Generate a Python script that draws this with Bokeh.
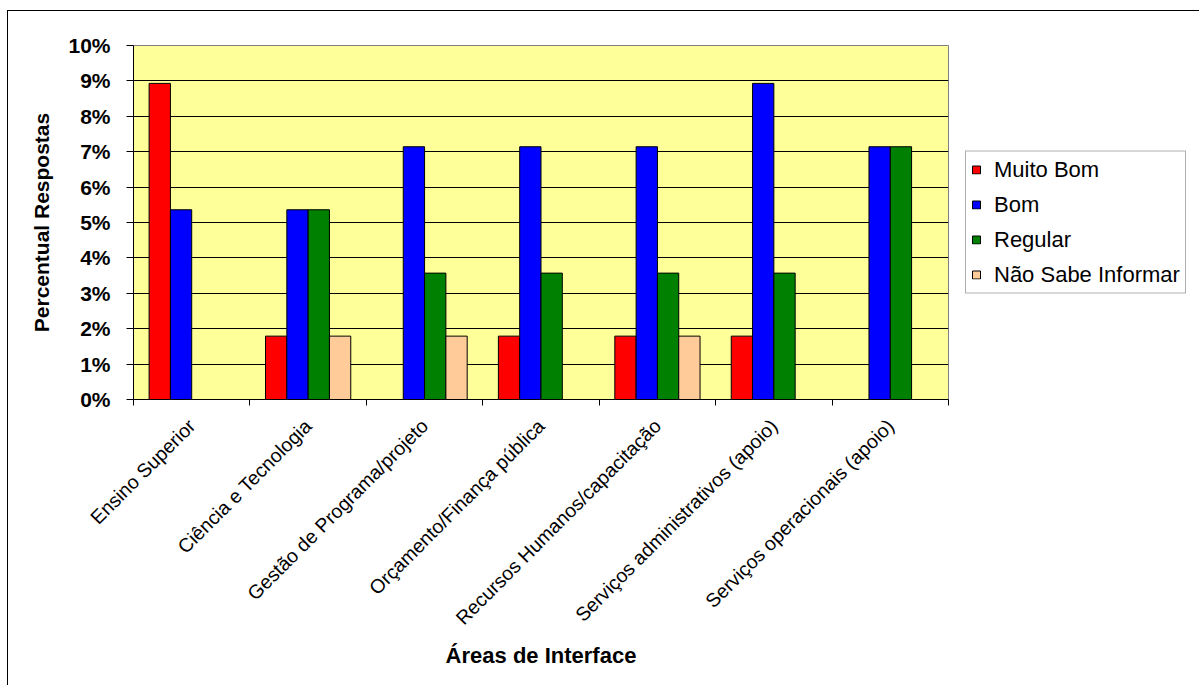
import math
import numpy as np
from bokeh.plotting import figure
from bokeh.models import (ColumnDataSource, FixedTicker, PrintfTickFormatter,
                          Legend, LegendItem, Range1d)
from bokeh.embed import file_html
from bokeh.resources import INLINE

# Areas and response shares (% of answers)
categories = [
    "Ensino Superior",
    "Ciência e Tecnologia",
    "Gestão de Programa/projeto",
    "Orçamento/Finança pública",
    "Recursos Humanos/capacitação",
    "Serviços administrativos (apoio)",
    "Serviços operacionais (apoio)",
]
muito_bom = [8.93, 1.79, 0.0, 1.79, 1.79, 1.79, 0.0]
bom = [5.36, 5.36, 7.14, 7.14, 7.14, 8.93, 7.14]
regular = [0.0, 5.36, 3.57, 3.57, 3.57, 3.57, 7.14]
nao_sabe = [0.0, 1.79, 1.79, 0.0, 1.79, 0.0, 0.0]

series_names = ["Muito Bom", "Bom", "Regular", "Não Sabe Informar"]
series_values = [muito_bom, bom, regular, nao_sabe]
series_colors = ["#FF0000", "#0000FF", "#008000", "#FFCC99"]
y_ticks = list(range(0, 11))

FONT = "Liberation Sans"
BAR_W = 0.183

p = figure(
    frame_width=815, frame_height=354,
    output_backend="svg", toolbar_location=None,
    x_range=Range1d(0, len(categories)), y_range=Range1d(0, 10),
    min_border_left=125, min_border_right=251,
    min_border_top=34, min_border_bottom=286,
    background_fill_color="#FFFF99", border_fill_color="white",
    outline_line_color="#808080",
    styles={"margin-left": "7px", "margin-top": "10px",
            "border-left": "1px solid #000000",
            "border-top": "1px solid #000000"},
)

centers = np.arange(len(categories)) + 0.5
n = len(series_names)
items = []
for i, (name, vals, col) in enumerate(zip(series_names, series_values, series_colors)):
    offset = (i - (n - 1) / 2) * BAR_W
    src = ColumnDataSource(dict(x=centers + offset, top=vals))
    r = p.vbar(x="x", top="top", bottom=0, width=BAR_W, source=src,
               fill_color=col, line_color="#000000", line_width=1)
    items.append(LegendItem(label=name, renderers=[r]))

# Y axis
p.yaxis.ticker = FixedTicker(ticks=y_ticks)
p.yaxis.formatter = PrintfTickFormatter(format="%d%%")
p.yaxis.axis_label = "Percentual Respostas"
p.yaxis.axis_label_text_font = FONT
p.yaxis.axis_label_text_font_style = "bold"
p.yaxis.axis_label_text_font_size = "21px"
p.yaxis.axis_label_text_color = "#000000"
p.yaxis.axis_label_standoff = 12
p.yaxis.major_label_text_font = FONT
p.yaxis.major_label_text_font_style = "bold"
p.yaxis.major_label_text_font_size = "21px"
p.yaxis.major_label_text_color = "#000000"
p.yaxis.major_label_standoff = 16
p.yaxis.major_tick_in = 0
p.yaxis.major_tick_out = 7
p.yaxis.minor_tick_line_color = None
p.yaxis.axis_line_color = "#000000"
p.yaxis.major_tick_line_color = "#000000"

# X axis: labels at category centres, ticks at category boundaries
p.xaxis.ticker = FixedTicker(ticks=list(centers),
                             minor_ticks=list(range(len(categories) + 1)))
p.xaxis.major_label_overrides = {float(c): lab for c, lab in zip(centers, categories)}
p.xaxis.major_label_orientation = math.pi / 4
p.xaxis.major_label_text_font = FONT
p.xaxis.major_label_text_font_size = "19.5px"
p.xaxis.major_label_text_color = "#000000"
p.xaxis.major_label_standoff = 17
p.xaxis.major_tick_line_color = None
p.xaxis.minor_tick_line_color = "#000000"
p.xaxis.minor_tick_in = 0
p.xaxis.minor_tick_out = 6
p.xaxis.axis_line_color = "#000000"
p.xaxis.axis_label = "Áreas de Interface"
p.xaxis.axis_label_text_font = FONT
p.xaxis.axis_label_text_font_style = "bold"
p.xaxis.axis_label_text_font_size = "22px"
p.xaxis.axis_label_text_color = "#000000"
p.xaxis.axis_label_standoff = 3

p.xgrid.grid_line_color = None
p.ygrid.ticker = FixedTicker(ticks=y_ticks)
p.ygrid.grid_line_color = "#000000"
p.ygrid.grid_line_width = 1

legend = Legend(items=items, location="center_left", margin=17,
                padding=5, spacing=9, glyph_width=10, glyph_height=10,
                label_standoff=13, label_text_font=FONT,
                label_text_font_size="22px", label_text_color="#000000",
                border_line_color="#606060", border_line_width=1,
                background_fill_color="white", background_fill_alpha=1)
p.add_layout(legend, "right")

open("out.html", "w").write(file_html(p, INLINE))
